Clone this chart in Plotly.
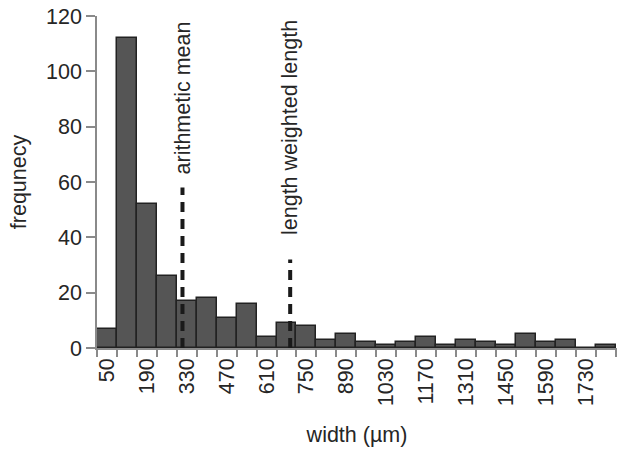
import plotly.graph_objects as go

# Histogram of widths: bin centres (µm) and counts
bin_centers = [50 + 70 * i for i in range(26)]
counts = [7, 112, 52, 26, 17, 18, 11, 16, 4, 9, 8, 3, 5,
          2, 1, 2, 4, 1, 3, 2, 1, 5, 2, 3, 0, 1]
bin_width = 70
bin_edges = [c - bin_width / 2 for c in bin_centers] + [bin_centers[-1] + bin_width / 2]

tick_labels = [50, 190, 330, 470, 610, 750, 890, 1030, 1170, 1310, 1450, 1590, 1730]

# Reference lines: position (µm), line height (count), label, label base
marker_x = [315, 693]
marker_top = [58, 32]
marker_text = ["arithmetic mean", "length weighted length"]
marker_label_base = [62, 40]

FONT = "Liberation Sans, Arial, sans-serif"
TEXT = "#262626"
AXIS = "#8a8a8a"
FS = 21.5

fig = go.Figure()
fig.add_trace(go.Bar(
    x=bin_centers,
    y=counts,
    width=bin_width,
    marker=dict(color="#555555", line=dict(color="#222222", width=1.5)),
    showlegend=False,
))

for x, top, text, base in zip(marker_x, marker_top, marker_text, marker_label_base):
    fig.add_shape(type="line", xref="x", yref="y", x0=x, x1=x, y0=0, y1=top,
                  line=dict(color="#1a1a1a", width=4, dash="10px,7px"), layer="above")
    fig.add_annotation(x=x, y=base, xref="x", yref="y", text=text, textangle=-90,
                       showarrow=False, xanchor="center", yanchor="bottom",
                       font=dict(family=FONT, size=FS, color=TEXT))

fig.update_layout(
    width=619, height=450,
    margin=dict(l=97, r=2, t=16, b=102),
    paper_bgcolor="white", plot_bgcolor="white",
    font=dict(family=FONT, size=FS, color=TEXT),
    bargap=0,
    xaxis=dict(
        range=[bin_edges[0], bin_edges[-1] + 5],
        tickmode="array", tickvals=tick_labels, ticktext=[str(t) for t in tick_labels],
        tickangle=-90, ticks="", showgrid=False, zeroline=False,
        showline=True, linecolor=AXIS, linewidth=1.5,
        tickfont=dict(family=FONT, size=FS, color=TEXT),
        minor=dict(tickmode="array", tickvals=bin_edges, ticks="outside",
                   ticklen=7, tickcolor=AXIS, tickwidth=1.5, showgrid=False),
        title=dict(text="width (µm)", font=dict(family=FONT, size=FS, color=TEXT), standoff=22),
    ),
    yaxis=dict(
        range=[0, 120], tickvals=[0, 20, 40, 60, 80, 100, 120],
        ticks="outside", ticklen=9, tickcolor=AXIS, tickwidth=1.5,
        showgrid=False, zeroline=False,
        showline=True, linecolor=AXIS, linewidth=1.5,
        tickfont=dict(family=FONT, size=FS, color=TEXT),
        title=dict(text="frequnecy", font=dict(family=FONT, size=FS, color=TEXT), standoff=14),
    ),
)

fig.write_html("out.html")
